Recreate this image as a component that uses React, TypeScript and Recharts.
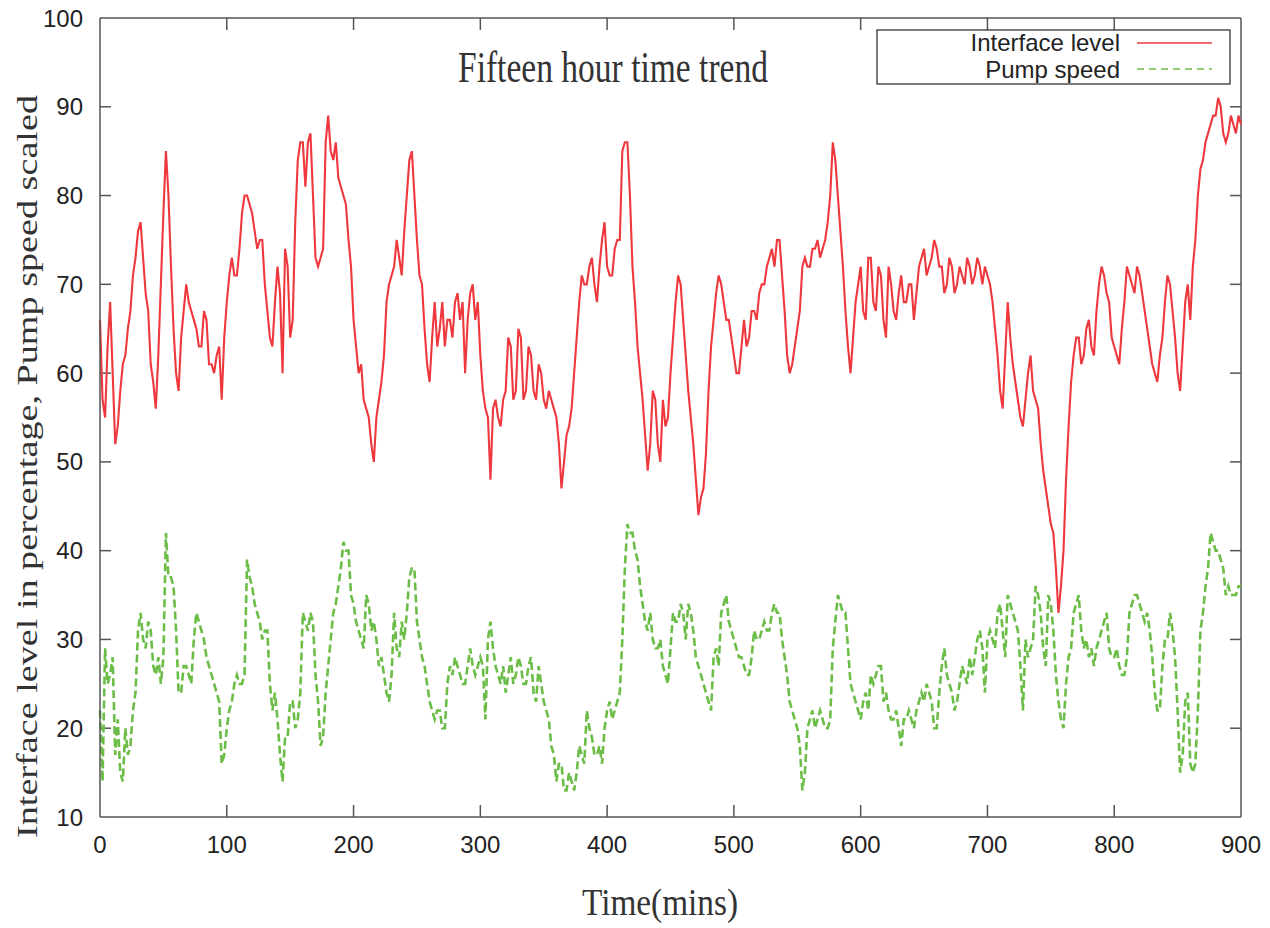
import { LineChart, Line, XAxis, YAxis, ReferenceLine } from 'recharts';

const SAMPLE_STEP = 2;

const interfaceLevel = [
  66, 57, 55, 63, 68, 60, 52, 54, 58, 61, 62, 65, 67, 71, 73, 76, 77, 73, 69, 67,
  61, 59, 56, 62, 70, 78, 85, 80, 72, 65, 60, 58, 64, 67, 70, 68, 67, 66, 65, 63,
  63, 67, 66, 61, 61, 60, 62, 63, 57, 64, 68, 71, 73, 71, 71, 74, 78, 80, 80, 79,
  78, 76, 74, 75, 75, 70, 67, 64, 63, 68, 72, 69, 60, 74, 72, 64, 66, 77, 84, 86,
  86, 81, 86, 87, 80, 73, 72, 73, 74, 86, 89, 85, 84, 86, 82, 81, 80, 79, 75, 72,
  66, 63, 60, 61, 57, 56, 55, 52, 50, 55, 57, 59, 62, 68, 70, 71, 72, 75, 73, 71,
  76, 80, 84, 85, 80, 75, 71, 70, 65, 61, 59, 64, 68, 63, 65, 68, 63, 66, 66, 64,
  68, 69, 66, 68, 60, 66, 69, 70, 66, 68, 62, 58, 56, 55, 48, 56, 57, 55, 54, 57,
  58, 64, 63, 57, 58, 65, 64, 57, 58, 63, 62, 58, 57, 61, 60, 57, 56, 58, 57, 56,
  55, 52, 47, 50, 53, 54, 56, 60, 64, 68, 71, 70, 70, 72, 73, 70, 68, 72, 75, 77,
  72, 71, 71, 74, 75, 75, 85, 86, 86, 80, 72, 68, 63, 60, 57, 53, 49, 52, 58, 57,
  52, 50, 57, 54, 55, 60, 64, 68, 71, 70, 66, 62, 58, 55, 52, 48, 44, 46, 47, 51,
  58, 63, 66, 69, 71, 70, 68, 66, 66, 64, 62, 60, 60, 63, 66, 63, 64, 67, 67, 66,
  69, 70, 70, 72, 73, 74, 72, 75, 75, 71, 67, 62, 60, 61, 63, 65, 67, 72, 73, 72,
  72, 74, 74, 75, 73, 74, 75, 77, 80, 86, 84, 80, 76, 72, 67, 63, 60, 64, 68, 70,
  72, 67, 66, 73, 73, 68, 67, 72, 71, 66, 64, 72, 70, 67, 66, 69, 71, 68, 68, 70,
  70, 66, 69, 72, 73, 74, 71, 72, 73, 75, 74, 72, 72, 69, 70, 73, 72, 69, 70, 72,
  71, 70, 73, 72, 70, 71, 73, 72, 70, 72, 71, 70, 68, 65, 62, 58, 56, 62, 68, 64,
  61, 59, 57, 55, 54, 57, 60, 62, 58, 57, 56, 52, 49, 47, 45, 43, 42, 38, 33, 36,
  40, 48, 54, 59, 62, 64, 64, 61, 62, 65, 66, 63, 62, 67, 70, 72, 71, 69, 68, 64,
  63, 62, 61, 65, 68, 72, 71, 70, 69, 72, 71, 69, 67, 65, 63, 61, 60, 59, 62, 64,
  68, 71, 70, 67, 64, 60, 58, 63, 68, 70, 66, 72, 75, 80, 83, 84, 86, 87, 88, 89,
  89, 91, 90, 87, 86, 87, 89, 88, 87, 89, 88,
];

const pumpSpeed = [
  22, 14, 29, 25, 26, 28, 17, 21, 15, 14, 20, 17, 18, 22, 24, 31, 33, 30, 29, 32,
  31, 27, 26, 28, 25, 28, 42, 37, 37, 36, 31, 24, 24, 27, 27, 26, 25, 30, 33, 32,
  31, 30, 28, 27, 26, 25, 24, 23, 16, 17, 20, 22, 23, 25, 26, 25, 25, 26, 39, 37,
  36, 34, 33, 32, 30, 31, 31, 25, 22, 24, 21, 17, 14, 19, 19, 23, 23, 20, 21, 24,
  33, 32, 31, 33, 32, 26, 23, 18, 19, 24, 27, 30, 33, 34, 36, 38, 41, 40, 40, 35,
  34, 32, 31, 30, 29, 35, 34, 31, 32, 30, 27, 28, 26, 24, 23, 26, 33, 29, 28, 32,
  30, 33, 37, 38, 38, 32, 30, 28, 27, 25, 23, 22, 21, 22, 22, 20, 20, 25, 27, 26,
  28, 27, 26, 25, 25, 27, 29, 27, 26, 27, 28, 27, 21, 30, 32, 29, 27, 26, 25, 27,
  24, 26, 28, 25, 26, 28, 27, 25, 25, 27, 28, 24, 23, 27, 25, 23, 22, 21, 18, 17,
  14, 16, 16, 13, 13, 15, 14, 13, 15, 18, 17, 16, 22, 20, 19, 17, 17, 18, 16, 20,
  22, 23, 21, 22, 23, 24, 30, 38, 43, 42, 42, 40, 39, 36, 34, 32, 31, 33, 30, 29,
  29, 30, 27, 26, 25, 29, 33, 32, 32, 34, 33, 30, 34, 33, 31, 28, 27, 26, 25, 24,
  23, 22, 28, 29, 27, 33, 34, 35, 32, 31, 30, 29, 28, 28, 27, 26, 26, 28, 31, 30,
  30, 31, 32, 31, 31, 33, 34, 33, 33, 30, 28, 26, 23, 22, 21, 20, 18, 13, 15, 20,
  21, 22, 20, 21, 22, 21, 20, 20, 21, 29, 32, 35, 34, 33, 33, 29, 25, 24, 23, 22,
  21, 23, 24, 22, 26, 25, 26, 27, 27, 23, 24, 22, 21, 21, 22, 20, 18, 21, 21, 22,
  21, 20, 22, 23, 24, 23, 25, 24, 23, 20, 20, 24, 27, 29, 26, 25, 24, 22, 23, 25,
  27, 26, 25, 28, 26, 28, 30, 31, 29, 24, 30, 31, 30, 29, 33, 34, 31, 28, 35, 34,
  33, 32, 31, 27, 22, 30, 28, 29, 30, 36, 35, 33, 29, 27, 35, 34, 31, 26, 23, 21,
  20, 25, 28, 29, 33, 34, 35, 31, 29, 30, 28, 29, 27, 29, 30, 31, 32, 33, 29, 28,
  28, 29, 27, 26, 26, 28, 33, 34, 35, 35, 34, 33, 32, 33, 31, 28, 24, 22, 22, 27,
  30, 30, 33, 31, 28, 22, 15, 17, 23, 24, 16, 15, 16, 22, 31, 33, 36, 38, 42, 41,
  40, 40, 39, 38, 35, 36, 35, 35, 35, 36, 36,
];

const xTicks = [0, 100, 200, 300, 400, 500, 600, 700, 800, 900];
const yTicks = [10, 20, 30, 40, 50, 60, 70, 80, 90, 100];

const minutes = interfaceLevel.map((_, i) => i * SAMPLE_STEP);
const data = minutes.map((t, i) => ({ t, level: interfaceLevel[i], pump: pumpSpeed[i] }));

const RED = '#ee383d';
const GREEN = '#6cbd48';
const AXIS = '#555';
const sans = 'Liberation Sans, Arial, sans-serif';
const serif = 'Liberation Serif, Times New Roman, serif';

// inward tick length, in axis units (about 12px / 11px)
const TICK_Y = 1.35;
const TICK_X = 8.7;

const axisLine = { stroke: AXIS, strokeWidth: 1.5 };
const tickStyle = { fill: '#222', fontSize: 24, fontFamily: sans };

export default function App() {
  return (
    <div style={{ position: 'absolute', left: 0, top: 0, width: 1270, height: 928, background: '#fff' }}>
      <LineChart width={1270} height={928} data={data} margin={{ top: 18, right: 29, bottom: 0, left: 0 }}>
        <XAxis
          dataKey="t"
          type="number"
          domain={[0, 900]}
          ticks={xTicks}
          interval={0}
          height={111}
          tickLine={false}
          tickSize={0}
          tickMargin={19}
          axisLine={axisLine}
          tick={tickStyle}
        />
        <YAxis
          type="number"
          domain={[10, 100]}
          ticks={yTicks}
          interval={0}
          width={100}
          tickLine={false}
          tickSize={0}
          tickMargin={17}
          axisLine={axisLine}
          tick={tickStyle}
        />
        <ReferenceLine y={100} stroke={AXIS} strokeWidth={1.5} />
        <ReferenceLine x={900} stroke={AXIS} strokeWidth={1.5} />
        {xTicks.slice(1, -1).map((v) => (
          <ReferenceLine key={'xb' + v} segment={[{ x: v, y: 10 }, { x: v, y: 10 + TICK_Y }]} stroke={AXIS} strokeWidth={1.5} />
        ))}
        {xTicks.slice(1, -1).map((v) => (
          <ReferenceLine key={'xt' + v} segment={[{ x: v, y: 100 }, { x: v, y: 100 - TICK_Y }]} stroke={AXIS} strokeWidth={1.5} />
        ))}
        {yTicks.slice(1, -1).map((v) => (
          <ReferenceLine key={'yl' + v} segment={[{ x: 0, y: v }, { x: TICK_X, y: v }]} stroke={AXIS} strokeWidth={1.5} />
        ))}
        {yTicks.slice(1, -1).map((v) => (
          <ReferenceLine key={'yr' + v} segment={[{ x: 900, y: v }, { x: 900 - TICK_X, y: v }]} stroke={AXIS} strokeWidth={1.5} />
        ))}
        <Line
          type="linear"
          dataKey="pump"
          stroke={GREEN}
          strokeWidth={2.6}
          strokeDasharray="8 4"
          dot={false}
          isAnimationActive={false}
        />
        <Line
          type="linear"
          dataKey="level"
          stroke={RED}
          strokeWidth={2.1}
          dot={false}
          isAnimationActive={false}
        />
      </LineChart>

      <svg width={1270} height={928} style={{ position: 'absolute', left: 0, top: 0, pointerEvents: 'none' }}>
        <text x={458} y={82} fontFamily={serif} fontSize={44} fill="#333" textLength={310} lengthAdjust="spacingAndGlyphs">
          Fifteen hour time trend
        </text>
        <text x={582} y={915} fontFamily={serif} fontSize={38} fill="#333" textLength={156} lengthAdjust="spacingAndGlyphs">
          Time(mins)
        </text>
        <text
          transform="translate(37 838) scale(0.8 1) rotate(-90)"
          x={0}
          y={0}
          fontFamily={serif}
          fontSize={38}
          fill="#333"
          textLength={743}
          lengthAdjust="spacingAndGlyphs"
        >
          Interface level in percentage, Pump speed scaled
        </text>

        <rect x={877} y={30} width={353} height={54} fill="#fff" stroke="#222" strokeWidth={1.2} />
        <text x={1120} y={51} textAnchor="end" fontFamily={sans} fontSize={24} fill="#222">
          Interface level
        </text>
        <line x1={1137} x2={1212} y1={43} y2={43} stroke={RED} strokeWidth={1.5} />
        <text x={1120} y={78} textAnchor="end" fontFamily={sans} fontSize={24} fill="#222">
          Pump speed
        </text>
        <line x1={1137} x2={1212} y1={69} y2={69} stroke={GREEN} strokeWidth={1.5} strokeDasharray="7 5" />
      </svg>
    </div>
  );
}
